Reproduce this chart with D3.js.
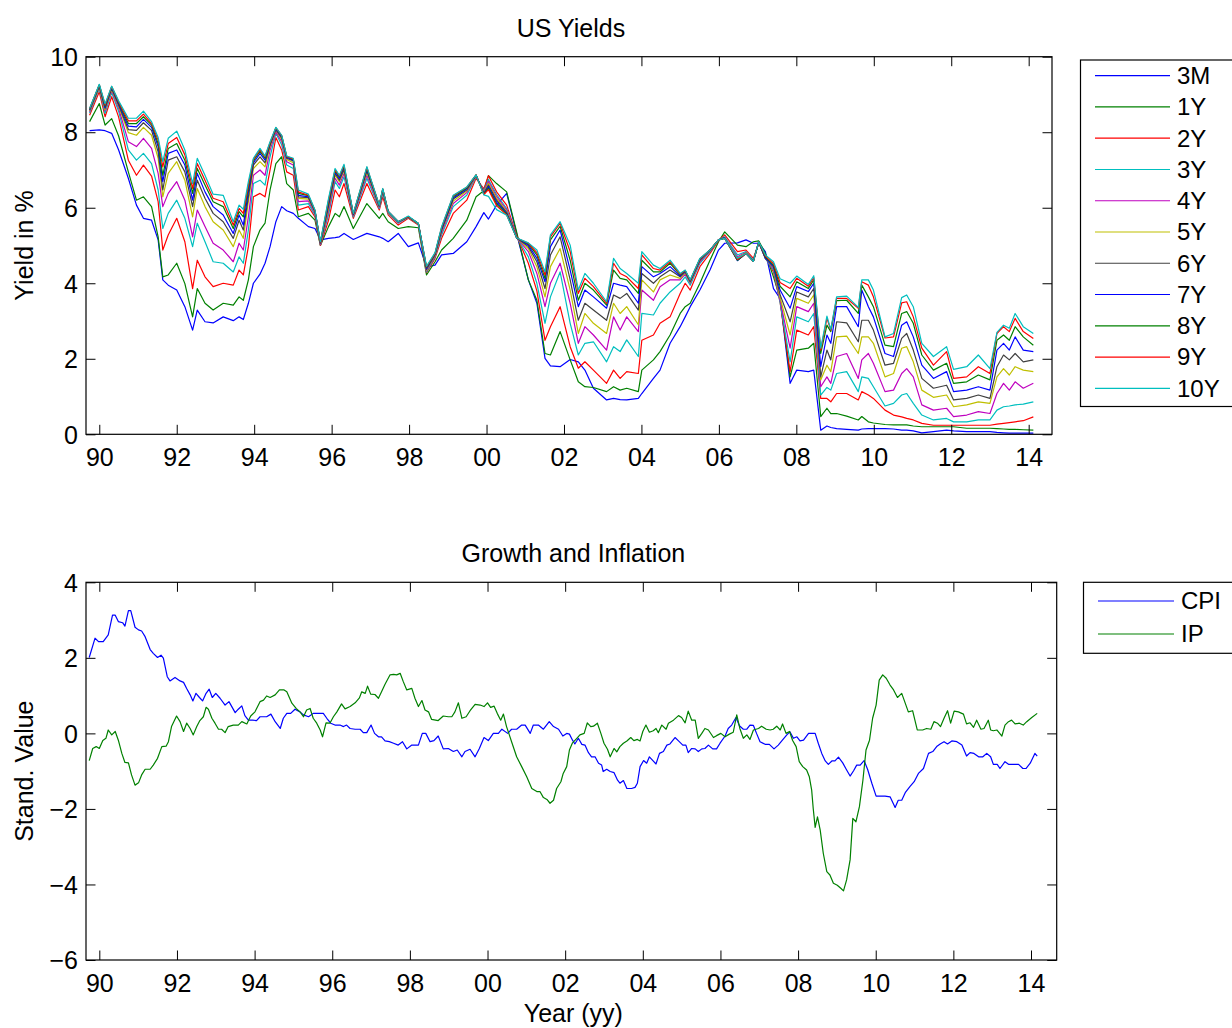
<!DOCTYPE html>
<html>
<head>
<meta charset="utf-8">
<script src="https://cdn.jsdelivr.net/npm/d3@7"></script>
<style>
body { margin: 0; background: #fff; }
text { font-family: "Liberation Sans", Arial, Helvetica, sans-serif; }
</style>
</head>
<body>
<svg id="fig" width="1232" height="1028"></svg>
<script>
// ---- data ----
var yieldDates = [
1989.75,1990.00,1990.15,1990.32,1990.50,1990.75,1990.96,1991.14,1991.35,1991.52,
1991.64,1991.78,1992.00,1992.21,1992.41,1992.53,1992.73,1992.94,1993.20,1993.46,
1993.61,1993.72,1993.85,1993.98,1994.15,1994.28,1994.41,1994.56,1994.71,1994.84,
1995.01,1995.14,1995.40,1995.57,1995.71,1995.92,1996.09,1996.20,1996.32,1996.56,
1996.91,1997.23,1997.32,1997.46,1997.72,1997.98,1998.24,1998.45,1998.67,1998.84,
1999.14,1999.49,1999.73,1999.93,2000.05,2000.26,2000.52,2000.78,2001.08,2001.30,
2001.51,2001.65,2001.90,2002.16,2002.37,2002.54,2002.76,2003.10,2003.28,2003.45,
2003.62,2003.92,2004.01,2004.31,2004.48,2004.74,2005.00,2005.13,2005.26,2005.51,
2005.77,2005.99,2006.15,2006.48,2006.70,2006.89,2007.03,2007.20,2007.41,2007.58,
2007.84,2008.01,2008.31,2008.45,2008.63,2008.79,2008.89,2009.04,2009.30,2009.60,
2009.69,2009.86,2009.99,2010.29,2010.51,2010.72,2010.85,2011.02,2011.24,2011.54,
2011.88,2012.06,2012.40,2012.70,2013.00,2013.18,2013.35,2013.50,2013.65,2013.86,
2014.12];

var y3M = [
8.04,8.06,8.04,7.97,7.53,6.78,6.07,5.72,5.67,5.15,
4.09,3.95,3.82,3.38,2.76,3.29,2.98,2.95,3.11,3.01,
3.11,3.04,3.47,4.00,4.24,4.53,4.97,5.63,6.03,5.92,
5.85,5.72,5.50,5.45,5.15,5.19,5.21,5.23,5.32,5.16,
5.32,5.23,5.19,5.10,5.32,4.97,5.07,4.43,4.48,4.75,
4.79,5.10,5.50,5.87,5.70,6.07,6.38,5.30,4.09,3.47,
2.01,1.81,1.79,1.98,1.92,1.70,1.22,0.91,0.95,0.92,
0.91,0.95,1.08,1.48,1.70,2.41,2.85,3.11,3.38,3.82,
4.35,4.88,5.06,5.07,5.15,5.06,5.06,4.84,3.86,3.60,
1.35,1.70,1.66,1.70,0.11,0.22,0.18,0.15,0.13,0.11,
0.14,0.15,0.15,0.15,0.14,0.11,0.11,0.09,0.04,0.07,
0.11,0.09,0.07,0.07,0.07,0.05,0.04,0.03,0.03,0.03,
0.03];
var y1Y = [
8.28,8.76,8.19,8.36,7.90,6.95,6.20,6.29,6.03,5.23,
4.17,4.22,4.53,3.99,3.11,3.86,3.47,3.29,3.47,3.42,
3.64,3.55,4.09,4.97,5.41,5.59,6.47,7.17,7.35,6.64,
6.47,5.76,5.85,5.67,5.00,5.50,5.85,5.76,6.03,5.45,
6.11,5.72,5.85,5.63,5.45,5.50,5.47,4.22,4.57,4.88,
5.19,5.67,6.29,6.45,6.85,6.64,6.42,5.35,4.09,3.55,
2.14,2.10,2.72,1.97,1.39,1.26,1.24,1.13,1.26,1.17,
1.22,1.13,1.70,1.97,2.19,2.63,3.20,3.38,3.47,4.00,
4.61,5.10,5.36,5.01,4.97,5.10,5.12,4.79,4.17,3.60,
1.52,2.23,2.28,2.41,0.47,0.69,0.55,0.55,0.48,0.38,
0.47,0.33,0.30,0.26,0.25,0.25,0.25,0.22,0.20,0.20,
0.20,0.20,0.16,0.16,0.16,0.15,0.14,0.13,0.13,0.12,
0.11];
var y2Y = [
8.45,9.07,8.41,8.94,8.40,7.26,6.86,7.13,6.84,6.16,
4.88,5.28,5.72,5.10,3.86,4.61,4.17,3.91,4.00,3.95,
4.35,4.22,4.97,6.29,6.38,6.29,7.00,7.86,7.53,6.95,
6.86,5.94,6.03,5.76,5.00,5.67,6.47,6.29,6.64,5.72,
6.64,5.94,6.29,5.81,5.54,5.72,5.54,4.28,4.66,5.19,
5.85,6.20,6.78,6.50,6.85,6.42,6.07,5.25,4.53,3.80,
2.49,2.85,3.38,2.32,1.75,1.92,1.70,1.35,1.70,1.48,
1.66,1.61,2.49,2.63,2.94,3.11,3.73,4.00,3.82,4.44,
4.79,5.13,5.28,4.84,4.88,4.66,5.06,4.70,4.30,3.50,
1.66,2.76,2.63,2.85,0.95,0.95,0.86,1.08,1.08,0.91,
1.13,1.04,0.95,0.64,0.51,0.46,0.42,0.38,0.29,0.24,
0.24,0.24,0.24,0.24,0.24,0.27,0.29,0.31,0.33,0.36,
0.46];
var y3Y = [
8.51,9.16,8.50,9.05,8.55,7.53,7.26,7.44,7.17,6.47,
5.45,5.85,6.20,5.72,4.97,5.59,5.10,4.57,4.53,4.30,
4.70,4.53,5.41,6.64,6.73,6.60,7.35,7.97,7.66,7.13,
7.04,6.07,6.11,5.81,5.02,5.81,6.69,6.51,6.82,5.76,
6.78,5.98,6.38,5.85,5.59,5.74,5.56,4.30,4.70,5.28,
6.03,6.33,6.82,6.45,6.75,6.35,5.98,5.22,4.70,4.00,
2.94,3.64,4.30,2.94,2.10,2.41,2.45,1.92,2.32,2.19,
2.50,2.06,3.20,3.16,3.47,3.77,4.00,4.17,3.95,4.53,
4.84,5.15,5.23,4.75,4.84,4.61,5.07,4.66,4.35,3.50,
1.92,3.11,2.98,3.20,1.04,1.24,1.17,1.61,1.66,1.13,
1.52,1.48,1.26,0.75,0.82,1.04,1.08,0.82,0.51,0.38,
0.42,0.33,0.33,0.38,0.38,0.64,0.73,0.75,0.78,0.80,
0.86];
var y4Y = [
8.54,9.19,8.57,9.10,8.63,7.75,7.62,7.84,7.57,6.91,
6.03,6.38,6.69,6.20,5.23,5.94,5.50,5.06,4.88,4.57,
5.06,4.88,5.76,6.86,7.00,6.86,7.53,8.01,7.75,7.22,
7.13,6.16,6.18,5.85,5.03,5.90,6.78,6.60,6.91,5.79,
6.86,6.01,6.42,5.87,5.60,5.76,5.57,4.33,4.73,5.34,
6.11,6.40,6.84,6.42,6.70,6.30,5.94,5.20,4.84,4.26,
3.38,4.00,4.53,3.47,2.41,2.85,2.63,2.23,3.11,2.76,
3.11,2.72,3.82,3.55,3.91,4.09,4.09,4.24,4.00,4.57,
4.86,5.15,5.21,4.70,4.82,4.59,5.08,4.66,4.39,3.55,
2.28,3.38,3.25,3.47,1.26,1.52,1.35,2.06,2.14,1.48,
1.97,2.14,1.88,1.13,1.17,1.61,1.74,1.52,0.78,0.64,
0.69,0.47,0.51,0.60,0.55,1.08,1.35,1.17,1.39,1.22,
1.35];
var y5Y = [
8.57,9.20,8.60,9.13,8.68,7.99,7.92,8.13,7.92,7.31,
6.29,6.91,7.22,6.73,5.76,6.51,6.03,5.63,5.41,4.97,
5.41,5.19,6.16,7.04,7.22,7.08,7.62,8.06,7.81,7.28,
7.19,6.25,6.23,5.88,5.05,5.98,6.86,6.69,6.98,5.81,
6.93,6.03,6.45,5.88,5.62,5.76,5.57,4.35,4.75,5.38,
6.18,6.44,6.85,6.40,6.65,6.25,5.90,5.20,4.92,4.44,
3.64,4.44,4.92,3.82,2.67,3.20,2.94,2.67,3.47,3.20,
3.38,2.90,4.09,3.77,4.09,4.22,4.13,4.28,4.02,4.60,
4.88,5.15,5.20,4.66,4.81,4.58,5.09,4.66,4.42,3.62,
2.63,3.60,3.47,3.69,1.44,1.83,1.66,2.58,2.60,2.14,
2.58,2.58,2.41,1.52,1.61,2.28,2.32,1.92,1.17,0.98,
1.04,0.73,0.78,0.86,0.82,1.52,1.74,1.57,1.79,1.70,
1.66];
var y6Y = [
8.58,9.22,8.63,9.16,8.72,8.07,8.05,8.25,8.05,7.48,
6.47,7.26,7.35,6.95,6.03,6.73,6.25,5.85,5.63,5.19,
5.67,5.41,6.29,7.13,7.35,7.19,7.66,8.07,7.85,7.31,
7.24,6.29,6.27,5.90,5.06,6.04,6.91,6.73,7.02,5.82,
6.98,6.04,6.47,5.89,5.63,5.76,5.58,4.37,4.76,5.41,
6.23,6.47,6.86,6.38,6.60,6.20,5.87,5.20,4.97,4.57,
3.86,4.75,5.23,4.09,3.02,3.47,3.29,3.02,3.69,3.60,
3.73,3.29,4.26,4.00,4.17,4.35,4.17,4.30,4.04,4.61,
4.88,5.15,5.20,4.61,4.79,4.58,5.10,4.66,4.44,3.70,
2.98,3.77,3.64,3.86,1.52,2.23,1.97,2.98,2.95,2.45,
3.02,3.02,2.76,1.83,1.88,2.54,2.67,2.23,1.48,1.22,
1.30,0.91,0.95,1.04,0.95,1.79,2.10,1.97,2.14,1.92,
1.97];
var y7Y = [
8.60,9.24,8.66,9.18,8.75,8.16,8.14,8.34,8.13,7.62,
6.69,7.44,7.53,7.13,6.20,6.91,6.42,6.03,5.81,5.32,
5.81,5.54,6.42,7.19,7.44,7.26,7.69,8.09,7.88,7.33,
7.26,6.33,6.29,5.91,5.07,6.11,6.95,6.78,7.07,5.82,
7.01,6.05,6.48,5.90,5.63,5.76,5.58,4.39,4.77,5.43,
6.26,6.50,6.86,6.37,6.56,6.15,5.85,5.20,5.01,4.66,
4.04,4.97,5.41,4.35,3.38,3.82,3.64,3.34,4.00,3.95,
3.91,3.47,4.44,4.17,4.26,4.44,4.19,4.32,4.06,4.63,
4.88,5.15,5.20,4.60,4.79,4.58,5.10,4.67,4.45,3.82,
3.34,3.91,3.78,4.00,1.79,2.63,2.41,3.38,3.38,2.85,
3.82,3.38,3.11,2.14,2.06,2.89,2.98,2.58,1.83,1.48,
1.66,1.13,1.17,1.26,1.17,2.23,2.41,2.23,2.58,2.23,
2.19];
var y8Y = [
8.61,9.25,8.69,9.20,8.78,8.23,8.23,8.41,8.19,7.70,
6.86,7.57,7.70,7.26,6.38,7.04,6.60,6.16,6.03,5.45,
5.90,5.76,6.51,7.24,7.50,7.31,7.70,8.11,7.90,7.35,
7.28,6.38,6.32,5.92,5.08,6.16,6.98,6.82,7.09,5.83,
7.04,6.06,6.49,5.90,5.63,5.76,5.58,4.42,4.78,5.46,
6.29,6.52,6.87,6.36,6.52,6.10,5.83,5.20,5.04,4.75,
4.13,5.15,5.51,4.61,3.55,4.00,3.82,3.42,4.35,4.13,
4.09,3.73,4.61,4.30,4.30,4.53,4.22,4.33,4.07,4.64,
4.88,5.15,5.19,4.61,4.79,4.58,5.10,4.70,4.48,3.92,
3.64,4.04,3.86,4.09,2.14,2.89,2.72,3.54,3.55,3.20,
3.95,3.64,3.38,2.36,2.32,3.20,3.25,2.94,2.10,1.70,
1.88,1.35,1.39,1.57,1.44,2.49,2.63,2.49,2.85,2.58,
2.36];
var y9Y = [
8.62,9.26,8.72,9.21,8.80,8.30,8.30,8.48,8.23,7.79,
7.08,7.70,7.86,7.40,6.51,7.17,6.73,6.25,6.16,5.54,
5.98,5.85,6.60,7.28,7.54,7.35,7.72,8.12,7.91,7.36,
7.29,6.42,6.33,5.93,5.09,6.20,7.01,6.84,7.12,5.84,
7.07,6.07,6.50,5.90,5.63,5.76,5.58,4.43,4.79,5.48,
6.32,6.54,6.87,6.35,6.48,6.05,5.81,5.20,5.06,4.81,
4.22,5.23,5.59,4.84,3.73,4.13,3.91,3.47,4.53,4.26,
4.17,3.86,4.75,4.39,4.35,4.57,4.24,4.34,4.08,4.65,
4.88,5.15,5.19,4.63,4.79,4.58,5.10,4.72,4.52,4.02,
3.86,4.13,3.92,4.15,2.23,3.07,2.76,3.60,3.60,3.34,
4.04,3.95,3.64,2.55,2.58,3.48,3.51,3.11,2.28,1.83,
2.19,1.48,1.52,1.79,1.61,2.67,2.85,2.72,3.07,2.72,
2.54];
var y10Y = [
8.63,9.27,8.75,9.22,8.83,8.37,8.37,8.56,8.28,7.86,
7.22,7.84,8.03,7.53,6.64,7.31,6.86,6.36,6.33,5.63,
6.07,5.96,6.69,7.31,7.57,7.37,7.75,8.13,7.92,7.37,
7.31,6.47,6.36,5.94,5.10,6.25,7.04,6.86,7.15,5.85,
7.09,6.07,6.51,5.90,5.63,5.78,5.58,4.45,4.81,5.50,
6.33,6.55,6.87,6.34,6.30,5.95,5.80,5.20,5.07,4.88,
4.30,5.28,5.63,5.01,3.82,4.26,4.00,3.51,4.66,4.39,
4.26,4.00,4.84,4.48,4.39,4.61,4.26,4.35,4.09,4.66,
4.88,5.15,5.19,4.66,4.79,4.58,5.10,4.75,4.57,4.12,
4.00,4.19,3.97,4.20,2.28,3.13,2.78,3.64,3.66,3.36,
4.09,4.09,3.82,2.58,2.67,3.62,3.69,3.38,2.41,2.06,
2.32,1.72,1.79,2.10,1.74,2.70,2.89,2.81,3.20,2.85,
2.67];

var maturities = ["3M","1Y","2Y","3Y","4Y","5Y","6Y","7Y","8Y","9Y","10Y"];
var yieldSeries = [y3M,y1Y,y2Y,y3Y,y4Y,y5Y,y6Y,y7Y,y8Y,y9Y,y10Y];

// [year, standardised value]
var cpi = [
[1989.74,2.01],[1989.89,2.52],[1989.98,2.43],[1990.10,2.43],[1990.23,2.61],[1990.34,3.13],[1990.41,3.13],[1990.49,2.96],
[1990.60,2.93],[1990.66,2.84],[1990.75,3.25],[1990.81,3.25],[1990.92,2.81],[1991.01,2.74],[1991.09,2.71],[1991.18,2.56],
[1991.31,2.22],[1991.39,2.12],[1991.50,2.01],[1991.59,2.07],[1991.65,1.99],[1991.75,1.50],[1991.82,1.39],[1991.95,1.48],
[1992.08,1.39],[1992.17,1.35],[1992.25,1.19],[1992.34,1.02],[1992.41,0.86],[1992.49,1.06],[1992.58,0.95],[1992.66,0.86],
[1992.75,1.06],[1992.83,1.17],[1992.91,0.95],[1993.00,1.06],[1993.11,0.93],[1993.24,0.75],[1993.34,0.84],[1993.50,0.55],
[1993.58,0.64],[1993.67,0.73],[1993.75,0.47],[1993.84,0.35],[1993.95,0.35],[1994.05,0.34],[1994.14,0.44],[1994.31,0.44],
[1994.42,0.51],[1994.53,0.31],[1994.66,0.13],[1994.74,0.40],[1994.83,0.53],[1994.93,0.53],[1995.04,0.64],[1995.17,0.57],
[1995.26,0.49],[1995.39,0.44],[1995.51,0.53],[1995.77,0.53],[1995.86,0.40],[1995.96,0.27],[1996.07,0.22],[1996.20,0.22],
[1996.29,0.18],[1996.37,0.22],[1996.46,0.13],[1996.59,0.11],[1996.72,0.11],[1996.80,0.02],[1996.89,0.02],[1997.00,0.22],
[1997.09,0.00],[1997.19,-0.09],[1997.27,-0.09],[1997.36,-0.20],[1997.47,-0.22],[1997.58,-0.26],[1997.70,-0.31],[1997.81,-0.22],
[1997.92,-0.41],[1998.05,-0.31],[1998.22,-0.31],[1998.32,0.00],[1998.41,0.00],[1998.52,-0.22],[1998.62,-0.19],[1998.73,-0.07],
[1998.86,-0.41],[1998.99,-0.40],[1999.12,-0.48],[1999.22,-0.44],[1999.34,-0.62],[1999.42,-0.48],[1999.55,-0.42],[1999.68,-0.62],
[1999.79,-0.40],[1999.91,-0.11],[2000.02,-0.19],[2000.15,0.00],[2000.28,0.00],[2000.37,0.11],[2000.52,0.00],[2000.62,0.11],
[2000.75,0.11],[2000.88,0.22],[2000.97,0.22],[2001.10,0.00],[2001.18,0.22],[2001.31,0.22],[2001.44,0.11],[2001.59,0.31],
[2001.70,0.18],[2001.83,0.11],[2001.94,-0.07],[2002.04,0.00],[2002.11,-0.02],[2002.19,-0.18],[2002.25,-0.28],[2002.34,-0.13],
[2002.43,-0.29],[2002.51,-0.31],[2002.60,-0.51],[2002.68,-0.62],[2002.77,-0.62],[2002.86,-0.79],[2002.94,-0.84],[2002.98,-1.01],
[2003.07,-0.95],[2003.16,-1.01],[2003.26,-1.04],[2003.35,-1.24],[2003.41,-1.32],[2003.50,-1.25],[2003.59,-1.46],[2003.71,-1.46],
[2003.80,-1.43],[2003.86,-1.32],[2003.93,-0.88],[2004.02,-0.72],[2004.10,-0.79],[2004.17,-0.62],[2004.26,-0.72],[2004.34,-0.81],
[2004.43,-0.53],[2004.53,-0.48],[2004.62,-0.31],[2004.70,-0.28],[2004.83,-0.11],[2004.92,-0.20],[2005.03,-0.31],[2005.11,-0.31],
[2005.17,-0.51],[2005.26,-0.40],[2005.35,-0.41],[2005.43,-0.48],[2005.52,-0.41],[2005.60,-0.40],[2005.69,-0.31],[2005.80,-0.41],
[2005.90,-0.41],[2005.99,-0.26],[2006.12,-0.07],[2006.20,0.13],[2006.29,0.22],[2006.40,0.42],[2006.49,0.20],[2006.59,0.11],
[2006.68,0.11],[2006.76,0.22],[2006.85,0.21],[2006.93,0.00],[2007.02,-0.22],[2007.15,-0.29],[2007.26,-0.29],[2007.38,-0.41],
[2007.49,-0.31],[2007.58,-0.20],[2007.71,-0.04],[2007.79,0.04],[2007.88,-0.13],[2007.97,-0.09],[2008.05,-0.20],[2008.14,-0.18],
[2008.27,0.00],[2008.44,0.00],[2008.52,-0.26],[2008.61,-0.53],[2008.70,-0.73],[2008.78,-0.82],[2008.87,-0.73],[2008.95,-0.73],
[2009.04,-0.63],[2009.15,-0.78],[2009.24,-0.95],[2009.34,-1.13],[2009.43,-0.99],[2009.51,-0.84],[2009.60,-0.84],[2009.70,-0.72],
[2009.79,-0.95],[2009.90,-1.32],[2010.01,-1.66],[2010.11,-1.66],[2010.24,-1.66],[2010.37,-1.68],[2010.50,-1.96],[2010.58,-1.77],
[2010.67,-1.77],[2010.76,-1.57],[2010.88,-1.41],[2010.99,-1.28],[2011.10,-1.06],[2011.23,-0.93],[2011.36,-0.53],[2011.47,-0.48],
[2011.57,-0.35],[2011.66,-0.28],[2011.76,-0.22],[2011.85,-0.28],[2011.96,-0.20],[2012.09,-0.22],[2012.22,-0.31],[2012.34,-0.60],
[2012.43,-0.51],[2012.53,-0.53],[2012.65,-0.62],[2012.76,-0.62],[2012.86,-0.53],[2012.96,-0.62],[2013.03,-0.82],[2013.13,-0.82],
[2013.20,-0.93],[2013.33,-0.75],[2013.42,-0.82],[2013.55,-0.82],[2013.68,-0.82],[2013.79,-0.93],[2013.87,-0.93],[2013.98,-0.79],
[2014.10,-0.53],[2014.16,-0.60]];

var ip = [
[1989.74,-0.72],[1989.83,-0.40],[1989.92,-0.35],[1990.00,-0.40],[1990.09,-0.19],[1990.17,-0.13],[1990.23,0.09],[1990.32,-0.04],
[1990.41,0.05],[1990.49,-0.18],[1990.58,-0.53],[1990.66,-0.77],[1990.75,-0.78],[1990.83,-1.10],[1990.92,-1.37],[1991.01,-1.31],
[1991.09,-1.10],[1991.18,-0.95],[1991.31,-0.95],[1991.39,-0.84],[1991.50,-0.66],[1991.61,-0.35],[1991.72,-0.34],[1991.78,-0.22],
[1991.86,0.18],[1991.99,0.46],[1992.08,0.31],[1992.17,0.05],[1992.25,0.27],[1992.34,0.13],[1992.42,-0.04],[1992.51,0.18],
[1992.59,0.34],[1992.68,0.44],[1992.75,0.69],[1992.81,0.64],[1992.90,0.40],[1992.98,0.27],[1993.07,0.11],[1993.15,0.11],
[1993.24,0.02],[1993.32,0.18],[1993.45,0.22],[1993.58,0.22],[1993.67,0.31],[1993.80,0.25],[1993.90,0.46],[1994.01,0.57],
[1994.14,0.84],[1994.23,0.88],[1994.31,0.99],[1994.40,0.95],[1994.53,1.02],[1994.64,1.15],[1994.76,1.15],[1994.83,1.10],
[1994.96,0.80],[1995.07,0.66],[1995.17,0.57],[1995.26,0.44],[1995.34,0.62],[1995.43,0.66],[1995.51,0.40],[1995.60,0.27],
[1995.69,0.09],[1995.75,-0.09],[1995.84,0.28],[1995.94,0.27],[1996.03,0.44],[1996.12,0.57],[1996.24,0.78],[1996.33,0.65],
[1996.46,0.71],[1996.59,0.81],[1996.70,0.94],[1996.76,1.10],[1996.85,1.06],[1996.91,1.25],[1996.99,1.04],[1997.10,1.03],
[1997.19,0.93],[1997.27,1.10],[1997.36,1.30],[1997.49,1.55],[1997.58,1.56],[1997.66,1.55],[1997.75,1.59],[1997.83,1.37],
[1997.92,1.15],[1998.05,1.19],[1998.13,0.93],[1998.22,0.71],[1998.31,0.87],[1998.39,0.62],[1998.48,0.57],[1998.56,0.37],
[1998.73,0.34],[1998.86,0.46],[1998.99,0.44],[1999.08,0.44],[1999.16,0.57],[1999.25,0.81],[1999.34,0.40],[1999.45,0.44],
[1999.55,0.60],[1999.68,0.77],[1999.81,0.75],[1999.91,0.71],[2000.00,0.81],[2000.08,0.69],[2000.17,0.72],[2000.25,0.53],
[2000.34,0.35],[2000.41,0.51],[2000.49,0.18],[2000.62,-0.22],[2000.75,-0.62],[2000.88,-0.88],[2001.01,-1.15],[2001.14,-1.46],
[2001.27,-1.54],[2001.35,-1.54],[2001.44,-1.70],[2001.53,-1.75],[2001.61,-1.85],[2001.70,-1.77],[2001.78,-1.46],[2001.89,-1.28],
[2001.95,-1.06],[2002.04,-0.88],[2002.11,-0.44],[2002.19,-0.25],[2002.30,-0.13],[2002.38,-0.04],[2002.49,0.00],[2002.57,0.28],
[2002.66,0.18],[2002.73,0.19],[2002.83,0.27],[2002.92,0.00],[2003.00,-0.26],[2003.09,-0.42],[2003.16,-0.62],[2003.26,-0.40],
[2003.33,-0.49],[2003.41,-0.35],[2003.50,-0.26],[2003.59,-0.20],[2003.69,-0.11],[2003.77,-0.19],[2003.86,-0.16],[2003.93,-0.20],
[2004.00,0.05],[2004.08,0.22],[2004.17,0.03],[2004.27,0.07],[2004.34,0.13],[2004.40,0.02],[2004.49,0.22],[2004.60,0.11],
[2004.66,0.27],[2004.79,0.35],[2004.92,0.47],[2005.00,0.42],[2005.09,0.28],[2005.17,0.59],[2005.26,0.35],[2005.35,0.35],
[2005.43,-0.13],[2005.52,0.00],[2005.60,0.13],[2005.69,0.09],[2005.82,-0.11],[2005.90,-0.06],[2006.01,0.00],[2006.12,-0.09],
[2006.23,-0.02],[2006.33,0.03],[2006.42,0.49],[2006.50,0.13],[2006.59,-0.13],[2006.68,-0.04],[2006.76,-0.16],[2006.85,0.09],
[2006.98,0.13],[2007.06,0.19],[2007.18,0.11],[2007.28,0.09],[2007.36,0.11],[2007.45,0.19],[2007.54,0.09],[2007.60,0.25],
[2007.69,0.00],[2007.78,0.05],[2007.86,-0.19],[2007.95,-0.35],[2008.03,-0.75],[2008.12,-0.88],[2008.22,-0.97],[2008.29,-1.15],
[2008.35,-1.50],[2008.39,-1.99],[2008.44,-2.49],[2008.50,-2.21],[2008.57,-2.56],[2008.65,-3.18],[2008.74,-3.66],[2008.82,-3.75],
[2008.91,-3.97],[2009.01,-4.02],[2009.10,-4.10],[2009.17,-4.17],[2009.25,-3.88],[2009.34,-3.35],[2009.41,-2.25],[2009.49,-2.34],
[2009.58,-1.94],[2009.67,-1.24],[2009.75,-0.44],[2009.84,-0.18],[2009.92,0.40],[2010.01,0.75],[2010.09,1.41],[2010.18,1.55],
[2010.27,1.46],[2010.37,1.28],[2010.46,1.15],[2010.56,0.95],[2010.67,1.06],[2010.76,0.80],[2010.84,0.57],[2010.95,0.60],
[2011.07,0.09],[2011.21,0.09],[2011.31,0.13],[2011.42,0.11],[2011.50,0.31],[2011.59,0.27],[2011.67,0.18],[2011.76,0.40],
[2011.85,0.60],[2011.93,0.27],[2012.02,0.59],[2012.13,0.57],[2012.26,0.51],[2012.34,0.25],[2012.43,0.28],[2012.52,0.16],
[2012.60,0.35],[2012.71,0.11],[2012.79,0.13],[2012.90,0.35],[2012.96,0.09],[2013.03,0.07],[2013.12,0.09],[2013.25,-0.07],
[2013.33,0.22],[2013.42,0.31],[2013.50,0.35],[2013.59,0.25],[2013.70,0.27],[2013.80,0.22],[2013.89,0.31],[2014.02,0.42],
[2014.16,0.53]];

var xTickYears = d3.range(1990, 2015, 2);
var topYTicks = [0, 2, 4, 6, 8, 10];
var bottomYTicks = [-6, -4, -2, 0, 2, 4];

// matlab-ish colour order
var lineColors = ["#0000ff","#008000","#ff0000","#00bfbf","#bf00bf","#bfbf00","#404040"];

var svg = d3.select("#fig");
var fontSize = 25;

function yearLabel(t) { return d3.format("02d")(t % 100); }

function drawPanel(cfg) {
  var g = svg.append("g");
  var x = d3.scaleLinear().domain(cfg.xDomain).range([cfg.L, cfg.R]);
  var y = d3.scaleLinear().domain(cfg.yDomain).range([cfg.B, cfg.T]);

  var line = d3.line().x(function(d){ return x(d[0]); }).y(function(d){ return y(d[1]); });
  cfg.series.forEach(function(s) {
    g.append("path")
      .datum(s.data)
      .attr("d", line)
      .attr("fill", "none")
      .attr("stroke", s.color)
      .attr("stroke-width", 1.2)
      .attr("stroke-linejoin", "round");
  });

  var tick = -9.5;
  var axB = g.append("g").attr("transform", "translate(0," + cfg.B + ")")
    .call(d3.axisBottom(x).tickValues(xTickYears).tickFormat(yearLabel).tickSizeInner(tick).tickSizeOuter(0).tickPadding(14));
  var axT = g.append("g").attr("transform", "translate(0," + cfg.T + ")")
    .call(d3.axisTop(x).tickValues(xTickYears).tickFormat("").tickSizeInner(tick).tickSizeOuter(0));
  var axL = g.append("g").attr("transform", "translate(" + cfg.L + ",0)")
    .call(d3.axisLeft(y).tickValues(cfg.yTicks).tickFormat(d3.format("d")).tickSizeInner(tick).tickSizeOuter(0).tickPadding(8));
  var axR = g.append("g").attr("transform", "translate(" + cfg.R + ",0)")
    .call(d3.axisRight(y).tickValues(cfg.yTicks).tickFormat("").tickSizeInner(tick).tickSizeOuter(0));
  [axB, axT, axL, axR].forEach(function(a) {
    a.select(".domain").remove();
    a.attr("font-size", fontSize).attr("font-family", null);
    a.selectAll("line").attr("stroke", "#000").attr("stroke-width", 1);
    a.selectAll("text").attr("fill", "#000");
  });
  axL.selectAll("text").attr("dy", "0.35em");

  g.append("rect")
    .attr("x", cfg.L).attr("y", cfg.T)
    .attr("width", cfg.R - cfg.L).attr("height", cfg.B - cfg.T)
    .attr("fill", "none").attr("stroke", "#000").attr("stroke-width", 1.2);

  g.append("text").attr("x", (cfg.L + cfg.R) / 2 + 2).attr("y", cfg.T - 20)
    .attr("text-anchor", "middle").attr("font-size", fontSize).text(cfg.title);
  g.append("text")
    .attr("transform", "translate(33," + ((cfg.T + cfg.B) / 2) + ") rotate(-90)")
    .attr("text-anchor", "middle").attr("font-size", fontSize).text(cfg.yLabel);
  if (cfg.xLabel) {
    g.append("text").attr("x", (cfg.L + cfg.R) / 2 + 2).attr("y", cfg.B + 62)
      .attr("text-anchor", "middle").attr("font-size", fontSize).text(cfg.xLabel);
  }

  // legend
  var lg = svg.append("g");
  var lgc = cfg.legend;
  lg.append("rect").attr("x", lgc.x).attr("y", lgc.y).attr("width", 240).attr("height", lgc.h)
    .attr("fill", "#fff").attr("stroke", "#000").attr("stroke-width", 1.2);
  cfg.series.forEach(function(s, i) {
    var yy = lgc.y0 + i * lgc.dy;
    lg.append("line").attr("x1", lgc.lx1).attr("x2", lgc.lx2).attr("y1", yy).attr("y2", yy)
      .attr("stroke", s.color).attr("stroke-width", 1.2);
    lg.append("text").attr("x", lgc.tx).attr("y", yy).attr("dy", "0.35em")
      .attr("font-size", 24).text(s.name);
  });
}

drawPanel({
  L: 86, R: 1052, T: 56.7, B: 434.3,
  xDomain: [1989.657, 2014.602], yDomain: [0, 10], yTicks: topYTicks,
  title: "US Yields", yLabel: "Yield in %",
  series: yieldSeries.map(function(v, i) {
    return { name: maturities[i], color: lineColors[i % 7],
             data: v.map(function(val, j) { return [yieldDates[j], val]; }) };
  }),
  legend: { x: 1080.5, y: 60, h: 346.5, y0: 75.7, dy: 31.26, lx1: 1095, lx2: 1170, tx: 1177 }
});

drawPanel({
  L: 86, R: 1056.7, T: 582.3, B: 960,
  xDomain: [1989.657, 2014.662], yDomain: [-6, 4], yTicks: bottomYTicks,
  title: "Growth and Inflation", yLabel: "Stand. Value", xLabel: "Year (yy)",
  series: [
    { name: "CPI", color: lineColors[0], data: cpi },
    { name: "IP", color: lineColors[1], data: ip }
  ],
  legend: { x: 1083.5, y: 582.3, h: 71, y0: 601, dy: 33, lx1: 1098, lx2: 1174, tx: 1181 }
});
</script>
</body>
</html>
